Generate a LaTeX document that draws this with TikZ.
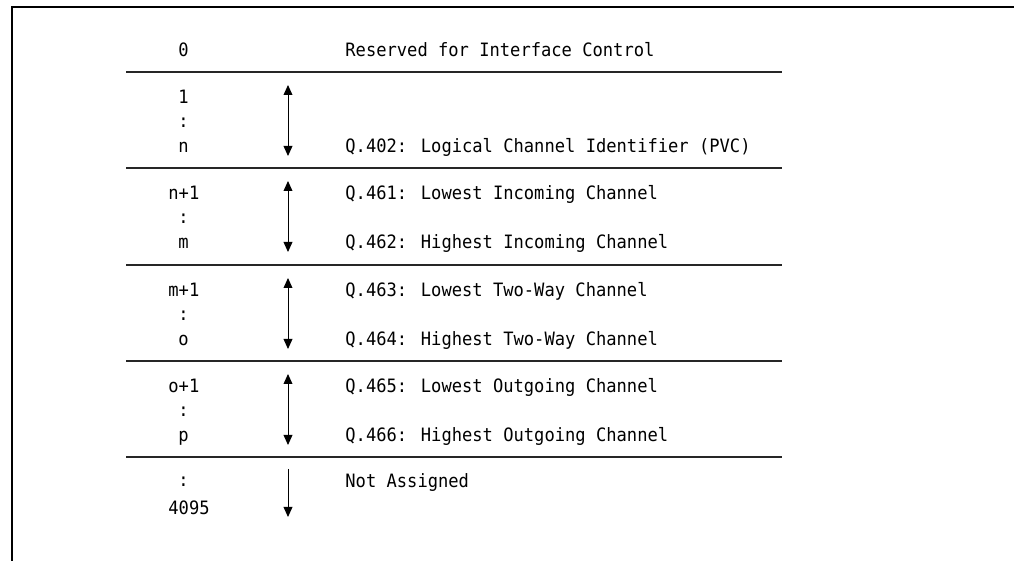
\documentclass[tikz,border=0pt]{standalone}
\usepackage{fontspec}
\setmainfont{DejaVu Sans Mono}[FakeStretch=0.93]
\usetikzlibrary{arrows.meta}
\begin{document}
\begin{tikzpicture}[x=0.5pt, y=-0.5pt,
        lbl/.style={anchor=base west, inner sep=0pt, font=\fontsize{9.2}{11}\selectfont},
        sepline/.style={line width=0.6pt, black!85},
        span/.style={line width=0.5pt, {Triangle[length=5pt, width=4.4pt]}-{Triangle[length=5pt, width=4.4pt]}},
        tail/.style={line width=0.5pt, -{Triangle[length=5pt, width=4.4pt]}}]
        \useasboundingbox (0, 0) rectangle (1014, 561);
        \draw [line width=1pt] (1014, 7.5) -- (12, 7.5) -- (12, 561);
        % reserved row
        \node [lbl] (num0) at (178, 57) {0};
        \node [lbl] (txt0) at (345, 57) {Reserved for Interface Control};
        \draw [sepline] (126, 72) -- (782, 72);
        % PVC range
        \node [lbl] (num1a) at (178, 104) {1};
        \node [lbl] (num1b) at (178, 128) {:};
        \node [lbl] (num1c) at (178, 153) {n};
        \node [lbl] (txt1) at (345, 153) {Q.402: Logical Channel Identifier (PVC)};
        \coordinate (up1) at (288, 85);
        \coordinate (dn1) at (288, 156);
        \draw [span] (up1) -- (dn1);
        \draw [sepline] (126, 168) -- (782, 168);
        % incoming range
        \node [lbl] (num2a) at (168, 200) {n+1};
        \node [lbl] (num2b) at (178, 224) {:};
        \node [lbl] (num2c) at (178, 249) {m};
        \node [lbl] (txt2a) at (345, 200) {Q.461: Lowest Incoming Channel};
        \node [lbl] (txt2b) at (345, 249) {Q.462: Highest Incoming Channel};
        \coordinate (up2) at (288, 181);
        \coordinate (dn2) at (288, 252);
        \draw [span] (up2) -- (dn2);
        \draw [sepline] (126, 265) -- (782, 265);
        % two-way range
        \node [lbl] (num3a) at (168, 297) {m+1};
        \node [lbl] (num3b) at (178, 321) {:};
        \node [lbl] (num3c) at (178, 346) {o};
        \node [lbl] (txt3a) at (345, 297) {Q.463: Lowest Two-Way Channel};
        \node [lbl] (txt3b) at (345, 346) {Q.464: Highest Two-Way Channel};
        \coordinate (up3) at (288, 278);
        \coordinate (dn3) at (288, 349);
        \draw [span] (up3) -- (dn3);
        \draw [sepline] (126, 361) -- (782, 361);
        % outgoing range
        \node [lbl] (num4a) at (168, 393) {o+1};
        \node [lbl] (num4b) at (178, 417) {:};
        \node [lbl] (num4c) at (178, 442) {p};
        \node [lbl] (txt4a) at (345, 393) {Q.465: Lowest Outgoing Channel};
        \node [lbl] (txt4b) at (345, 442) {Q.466: Highest Outgoing Channel};
        \coordinate (up4) at (288, 374);
        \coordinate (dn4) at (288, 445);
        \draw [span] (up4) -- (dn4);
        \draw [sepline] (126, 457) -- (782, 457);
        % unassigned
        \node [lbl] (num5a) at (178, 487) {:};
        \node [lbl] (num5b) at (168, 515) {4095};
        \node [lbl] (txt5) at (345, 488) {Not Assigned};
        \coordinate (up5) at (288, 469);
        \coordinate (dn5) at (288, 517);
        \draw [tail] (up5) -- (dn5);
\end{tikzpicture}
\end{document}
